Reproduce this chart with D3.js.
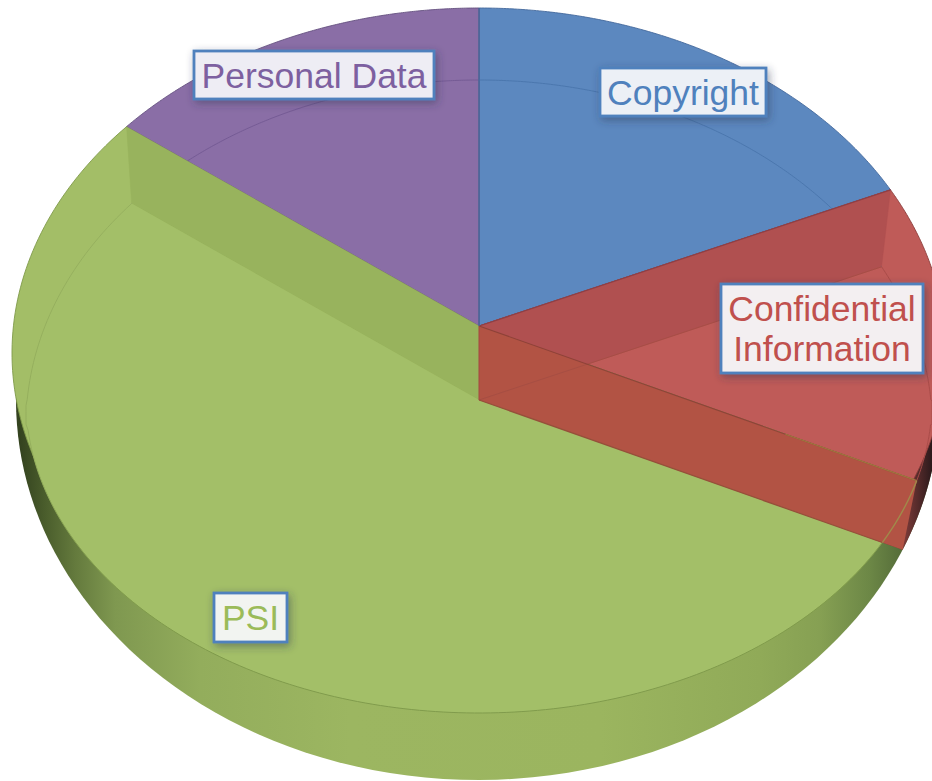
<!DOCTYPE html>
<html>
<head>
<meta charset="utf-8">
<script src="https://cdn.jsdelivr.net/npm/d3@7/dist/d3.min.js"></script>
<style>
html,body{margin:0;padding:0;background:#fff;overflow:hidden}
svg{display:block}
text{font-family:"Liberation Sans",Arial,sans-serif}
</style>
</head>
<body>
<svg id="chart" width="932" height="781"></svg>
<script>
// ---- data ----
const categories = ["Copyright", "Confidential Information", "PSI", "Personal Data"];
const shares = [18.3, 13.8, 53.3, 14.6];
const labelLines = [["Copyright"], ["Confidential", "Information"], ["PSI"], ["Personal Data"]];

// ---- styles and layout ----
const topFill = ["#5c88bf", "#bf5b58", "#a3be67", "#8a6ea6"];
const edgeStroke = ["#44699c", "#8b3d3b", "#7f9a4a", "#64507f"];
const rimStroke = ["#4b77ae", "#a94c49", "#86a04f", "#755b95"];
const textFill = ["#4f81bd", "#c0504d", "#9bbb59", "#7d60a0"];
const boxFill = ["#ecf0f6", "#f3eff1", "#f2f4f1", "#eeedf4"];
const boxes = [
  {x: 600, y: 68, w: 166, h: 48},
  {x: 721, y: 284, w: 202, h: 89},
  {x: 214, y: 593, w: 73, h: 49},
  {x: 194, y: 51, w: 240, h: 48}
];

// Projected rims of the tilted pie
const rimA = {cx: 479, rx: 467, cyUp: 353, ryUp: 345, cyLow: 353, ryLow: 345};
const rimB = {cx: 479, rx: 453, cyUp: 425, ryUp: 345, cyLow: 400, ryLow: 313};
const rimC = {cx: 478, rx: 462, cyUp: 400, ryUp: 380, cyLow: 400, ryLow: 380};
const apexP = [479, 326];
const apexQ = [479, 400];
const aspect = 467 / 345;

function inside(r, x, y) {
  const u = (x - r.cx) / r.rx;
  if (y < r.cyLow && y < r.cyUp) { const v = (y - r.cyUp) / r.ryUp; return u * u + v * v < 1; }
  if (y > r.cyUp && y > r.cyLow) { const v = (y - r.cyLow) / r.ryLow; return u * u + v * v < 1; }
  return Math.abs(u) < 1;
}
function hit(o, theta, r) {
  const dx = Math.sin(theta) * aspect, dy = -Math.cos(theta);
  let a = 0, b = 1200;
  for (let i = 0; i < 40; i++) {
    const m = (a + b) / 2;
    if (inside(r, o[0] + dx * m, o[1] + dy * m)) a = m; else b = m;
  }
  return [o[0] + dx * a, o[1] + dy * a];
}
const line = d3.line();
function arcPts(o, t0, t1, r) {
  return d3.range(0, 181).map(i => hit(o, t0 + (t1 - t0) * i / 180, r));
}
function thetaOf(o, p) { // ray angle seen from o
  let t = Math.atan2((p[0] - o[0]) / aspect, -(p[1] - o[1]));
  return t < 0 ? t + 2 * Math.PI : t;
}

const pie = d3.pie().sort(null).value(d => d);
const arcs = pie(shares);
const svg = d3.select("#chart");
const defs = svg.append("defs");

const sideGrad = defs.append("linearGradient").attr("id", "side")
  .attr("gradientUnits", "userSpaceOnUse").attr("x1", 20).attr("x2", 910).attr("y1", 0).attr("y2", 0);
[[20, "#34431f"], [45, "#4a5d2c"], [75, "#647a3d"], [115, "#7f9850"], [200, "#93ad5c"],
 [350, "#9cb661"], [600, "#9bb55f"], [760, "#90aa58"], [820, "#86a053"], [870, "#6c8746"], [910, "#4f6636"]]
  .forEach(s => sideGrad.append("stop").attr("offset", (s[0] - 20) / 890).attr("stop-color", s[1]));

const darkGrad = defs.append("linearGradient").attr("id", "darkRed")
  .attr("gradientUnits", "userSpaceOnUse").attr("x1", 905).attr("x2", 932).attr("y1", 0).attr("y2", 0);
darkGrad.append("stop").attr("offset", 0).attr("stop-color", "#7a3a38");
darkGrad.append("stop").attr("offset", 1).attr("stop-color", "#2c1a1c");

const rimGrad = defs.append("linearGradient").attr("id", "greenRim")
  .attr("gradientUnits", "userSpaceOnUse").attr("x1", 0).attr("x2", 0).attr("y1", 200).attr("y2", 720);
rimGrad.append("stop").attr("offset", 0).attr("stop-color", "#96b05f");
rimGrad.append("stop").attr("offset", 0.5).attr("stop-color", "#94ae5c");
rimGrad.append("stop").attr("offset", 0.72).attr("stop-color", "#7f9a4a");
rimGrad.append("stop").attr("offset", 1).attr("stop-color", "#809b4c");

const shadow = defs.append("filter").attr("id", "shadow")
  .attr("x", "-20%").attr("y", "-30%").attr("width", "140%").attr("height", "170%");
shadow.append("feDropShadow").attr("dx", 2).attr("dy", 3).attr("stdDeviation", 4)
  .attr("flood-color", "#2a3550").attr("flood-opacity", 0.45);

const g = svg.append("g");
const sector = (o, a, r) => line([o, ...arcPts(o, a.startAngle, a.endAngle, r)]) + "Z";

// Outer side wall
g.append("path")
  .attr("d", line(arcPts(apexQ, 0, 2 * Math.PI, rimC)) + "Z")
  .attr("fill", "url(#side)");

// Dark end of the red slice on the side wall
g.append("path")
  .attr("d", line([apexQ, ...arcPts(apexQ, Math.PI / 2, arcs[1].endAngle, rimC)]) + "Z")
  .attr("fill", "url(#darkRed)");

// Upper faces, seen from the upper apex
arcs.forEach((a, i) => {
  g.append("path").attr("class", "face")
    .attr("d", sector(apexP, a, rimA))
    .attr("fill", topFill[i])
    .attr("stroke", edgeStroke[i]).attr("stroke-width", 0.9).attr("stroke-linejoin", "round");
});

// Inner rim across the back slices
[0, 3, 1].forEach(i => {
  const a = arcs[i];
  g.append("path").attr("class", "rim")
    .attr("d", line(arcPts(apexQ, a.startAngle, a.endAngle, rimB)))
    .attr("fill", "none").attr("stroke", rimStroke[i]).attr("stroke-width", 1);
});

// Back walls
g.append("path")
  .attr("d", line([apexP, hit(apexP, arcs[0].endAngle, rimA), hit(apexQ, arcs[0].endAngle, rimB), apexQ]) + "Z")
  .attr("fill", "#b05050").attr("stroke", "#b05050").attr("stroke-width", 0.5);
g.append("path")
  .attr("d", line([apexP, hit(apexP, arcs[2].endAngle, rimA), hit(apexQ, arcs[2].endAngle, rimB), apexQ]) + "Z")
  .attr("fill", "#98b35d").attr("stroke", "#98b35d").attr("stroke-width", 0.5);

// Lower green face
g.append("path")
  .attr("d", sector(apexQ, arcs[2], rimB))
  .attr("fill", "#a3bf68");
g.append("path")
  .attr("d", line(arcPts(apexQ, arcs[2].startAngle, arcs[2].endAngle, rimB)))
  .attr("fill", "none").attr("stroke", "url(#greenRim)").attr("stroke-width", 1);

// Front wall of the red slice
const pHitB = hit(apexP, arcs[1].endAngle, rimB);
const qEndB = hit(apexQ, arcs[1].endAngle, rimB);
const qEndC = hit(apexQ, arcs[1].endAngle, rimC);
g.append("path")
  .attr("d", line([apexP, pHitB, qEndC, apexQ]) + "Z")
  .attr("fill", "#b25344");
g.append("path")
  .attr("d", line([apexQ, hit(apexQ, arcs[0].endAngle, rimB)]))
  .attr("stroke", "#a34d42").attr("stroke-width", 0.8).attr("fill", "none");
g.append("path")
  .attr("d", line([apexP, hit(apexP, arcs[0].endAngle, rimA)]))
  .attr("stroke", "#8f3f45").attr("stroke-width", 1.2).attr("fill", "none");
g.append("path")
  .attr("d", line([apexP, pHitB]))
  .attr("stroke", "#8e4238").attr("stroke-width", 1.1).attr("fill", "none");
g.append("path")
  .attr("d", line([apexP, apexQ]))
  .attr("stroke", "#a34a40").attr("stroke-width", 1).attr("fill", "none");
g.append("path")
  .attr("d", line([apexQ, qEndB]))
  .attr("stroke", "#95503a").attr("stroke-width", 1.2).attr("fill", "none");
// Brown seam along the end of the red wall's top edge and across its end
const mix = d3.interpolateArray(apexP, pHitB);
g.append("path")
  .attr("d", line([mix(0.7), pHitB]))
  .attr("stroke", "#a0763f").attr("stroke-width", 1.3).attr("fill", "none");
g.append("path")
  .attr("d", line(arcPts(apexQ, thetaOf(apexQ, pHitB), arcs[1].endAngle, rimB)))
  .attr("stroke", "#a08a4a").attr("stroke-width", 1.4).attr("fill", "none");
// Blue edge at twelve o'clock
g.append("path")
  .attr("d", line([apexP, hit(apexP, 0, rimA)]))
  .attr("stroke", "#44699c").attr("stroke-width", 1.2).attr("fill", "none");

// Labels
const lab = svg.append("g").selectAll("g").data(categories).join("g");
lab.append("rect")
  .attr("x", (d, i) => boxes[i].x).attr("y", (d, i) => boxes[i].y)
  .attr("width", (d, i) => boxes[i].w).attr("height", (d, i) => boxes[i].h)
  .attr("fill", (d, i) => boxFill[i])
  .attr("stroke", "#4f81bd").attr("stroke-width", 2.8)
  .attr("filter", "url(#shadow)");
lab.each(function (d, i) {
  const b = boxes[i], ls = labelLines[i];
  const step = 40.5, mid = b.y + b.h / 2;
  d3.select(this).selectAll("text").data(ls).join("text")
    .attr("x", b.x + b.w / 2)
    .attr("y", (t, k) => mid + (k - (ls.length - 1) / 2) * step + 12.5)
    .attr("text-anchor", "middle")
    .attr("font-size", 35.5)
    .attr("fill", textFill[i])
    .text(t => t);
});
</script>
</body>
</html>
